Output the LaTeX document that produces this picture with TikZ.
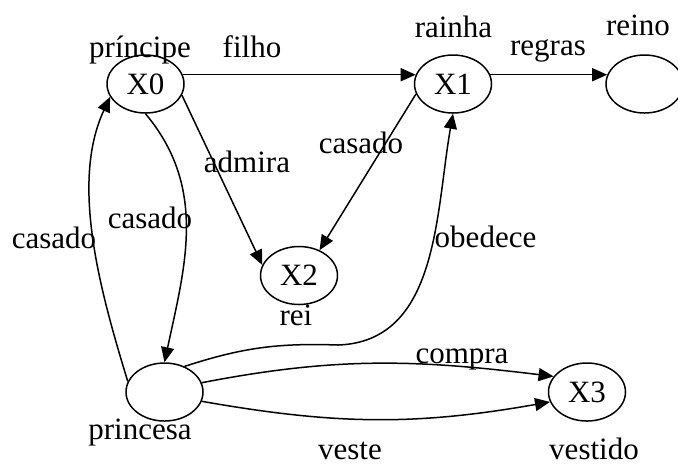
\documentclass[tikz,border=0pt]{standalone}
\usepackage{fontspec}
\setmainfont{Liberation Serif}
\usetikzlibrary{shapes.geometric,arrows.meta}
\begin{document}
\begin{tikzpicture}[x=0.5pt,y=0.5pt,
  line width=0.75pt,
  state/.style={draw,ellipse,minimum width=38.5pt,minimum height=29pt,inner sep=0pt,font=\fontsize{15.5pt}{18pt}\selectfont},
  lbl/.style={inner sep=0pt,anchor=base,font=\fontsize{15.5pt}{18pt}\selectfont},
  arr/.style={-{Triangle[length=7.5pt,width=6.5pt]}}]
\useasboundingbox (0,0) rectangle (678,-463);
\node[state] (X0) at (145.5,-84) {X0};
\node[state] (X1) at (453,-84) {X1};
\node[state] (reino) at (644.5,-84) {};
\node[state] (X2) at (299,-275.5) {X2};
\node[state] (princesa) at (164.5,-392) {};
\node[state] (X3) at (587,-392) {X3};
\coordinate (obm) at (338,-345);

\draw[arr] (X0.14) -- (X1.166);
\draw[arr] (X1.14) -- (reino.166);
\draw[arr] (X0.-17) -- (X2.164);
\draw[arr] (X1.195) -- (X2.51);
\draw[arr] (X0.south) to[out=-50,in=78] (princesa.north);
\draw[arr] (princesa.164) to[out=107,in=-115,looseness=0.85] (X0.200);
\draw[arr] (princesa.52) to[out=18,in=178] (obm) to[out=2,in=-100] (X1.south);
\draw[arr] (princesa.14) to[out=11,in=173] (X3.155);
\draw[arr] (princesa.-14) to[out=-10,in=190] (X3.195);

\node[lbl] (lprincipe) at (140,-57) {príncipe};
\node[lbl] (lfilho) at (252,-57) {filho};
\node[lbl] (lrainha) at (453.5,-37) {rainha};
\node[lbl] (lregras) at (548,-55) {regras};
\node[lbl] (lreino) at (638,-35) {reino};
\node[lbl] (lcasadoa) at (361,-153) {casado};
\node[lbl] (ladmira) at (247,-172) {admira};
\node[lbl] (lcasadob) at (150,-228) {casado};
\node[lbl] (lcasadoc) at (54,-248) {casado};
\node[lbl] (lobedece) at (485.5,-247) {obedece};
\node[lbl] (lrei) at (296,-325) {rei};
\node[lbl] (lcompra) at (462,-363) {compra};
\node[lbl] (lprincesa) at (140,-439) {princesa};
\node[lbl] (lveste) at (350,-459) {veste};
\node[lbl] (lvestido) at (594,-459) {vestido};
\end{tikzpicture}
\end{document}
